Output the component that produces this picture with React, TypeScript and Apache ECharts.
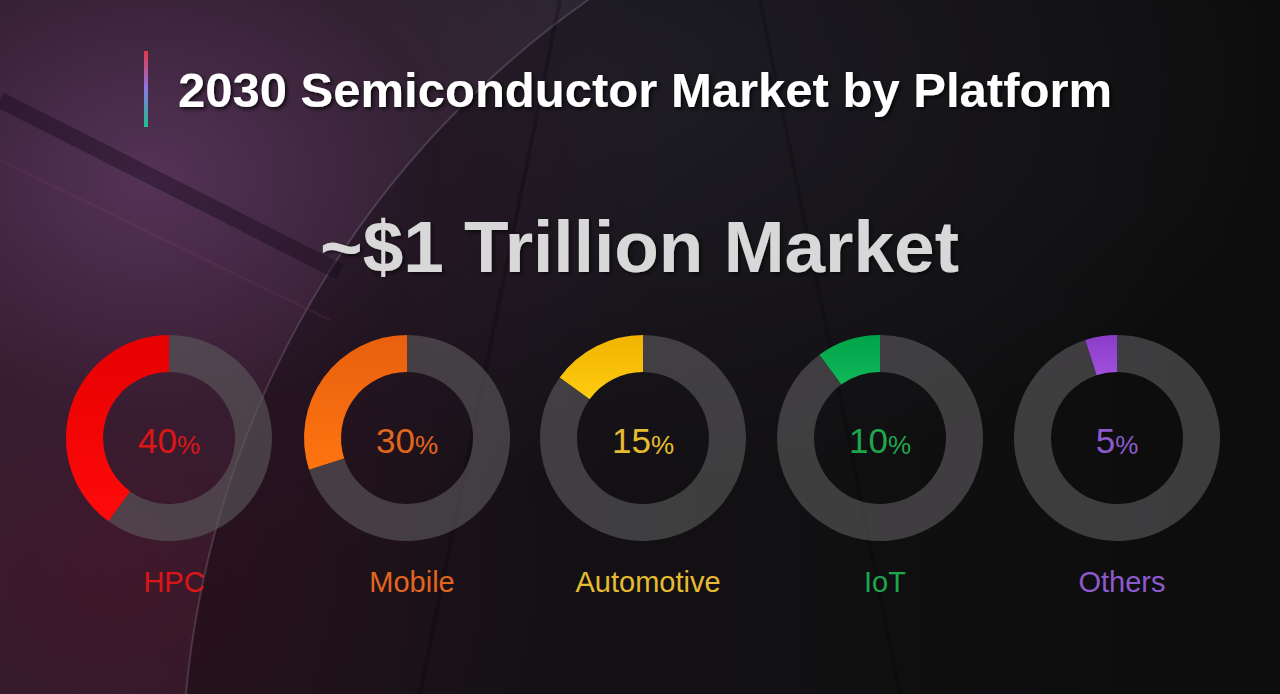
import React, { useEffect, useRef } from "react";
import * as echarts from "echarts";

const titleText = "2030 Semiconductor Market by Platform";
const headline = "~$1 Trillion Market";
const categories = ["HPC", "Mobile", "Automotive", "IoT", "Others"];
const shares = [40, 30, 15, 10, 5];
const arcTop = ["#e60000", "#e8600e", "#f0b400", "#00a448", "#8a3cc8"];
const arcBottom = ["#ff0a0a", "#ff7410", "#ffcc10", "#10b85a", "#a050dc"];
const labelColors = ["#dc1616", "#e2661e", "#e6bb32", "#1fa64c", "#8c5acc"];
const centersX = [169, 407, 643, 880, 1117];

export default function App() {
  const ref = useRef<HTMLDivElement>(null);
  useEffect(() => {
    if (!ref.current) return;
    const chart = echarts.init(ref.current, null, { renderer: "svg" });
    const series: any[] = shares.map((v, i) => ({
      type: "pie",
      radius: [66, 103],
      center: [centersX[i], 438],
      startAngle: 90,
      clockwise: false,
      silent: true,
      label: { show: false },
      labelLine: { show: false },
      emphasis: { disabled: true },
      data: [
        {
          value: v,
          name: categories[i],
          itemStyle: {
            color: new echarts.graphic.LinearGradient(0, 0, 0, 1, [
              { offset: 0, color: arcTop[i] },
              { offset: 1, color: arcBottom[i] },
            ]),
          },
          label: {
            show: true,
            position: "center",
            formatter: `{n|${v}}{p|%}`,
            rich: {
              n: { fontSize: 35, lineHeight: 40, color: labelColors[i], fontFamily: "Liberation Sans", verticalAlign: "bottom" },
              p: { fontSize: 26, lineHeight: 40, color: labelColors[i], fontFamily: "Liberation Sans", verticalAlign: "bottom" },
            },
          },
        },
        { value: 100 - v, name: "rest", itemStyle: { color: "rgba(92,90,92,0.62)" }, label: { show: false } },
      ],
    }));
    const titles: any[] = categories.map((c, i) => ({
      text: c,
      left: centersX[i],
      top: 562,
      textAlign: "center",
      textStyle: { color: labelColors[i], fontSize: 29, fontWeight: "normal", fontFamily: "Liberation Sans" },
    }));
    chart.setOption({
      animation: false,
      backgroundColor: "transparent",
      title: titles,
      graphic: [
        {
          type: "circle",
          shape: { cx: 1136, cy: 781, r: 954 },
          style: { fill: "rgba(0,0,0,0.3)", stroke: "rgba(190,185,210,0.2)", lineWidth: 2 },
          silent: true,
          z: -10,
        },
        {
          type: "line",
          shape: { x1: 0, y1: 100, x2: 340, y2: 272 },
          style: { stroke: "rgba(20,10,25,0.4)", lineWidth: 16 },
          silent: true,
          z: -9,
        },
        {
          type: "line",
          shape: { x1: 0, y1: 160, x2: 330, y2: 320 },
          style: { stroke: "rgba(150,70,110,0.14)", lineWidth: 3 },
          silent: true,
          z: -9,
        },
        {
          type: "line",
          shape: { x1: 560, y1: 0, x2: 420, y2: 694 },
          style: { stroke: "rgba(0,0,0,0.22)", lineWidth: 4 },
          silent: true,
          z: -9,
        },
        {
          type: "line",
          shape: { x1: 760, y1: 0, x2: 900, y2: 694 },
          style: { stroke: "rgba(0,0,0,0.18)", lineWidth: 4 },
          silent: true,
          z: -9,
        },
        {
          type: "rect",
          shape: { x: 144, y: 51, width: 4, height: 76 },
          style: {
            fill: new echarts.graphic.LinearGradient(0, 0, 0, 1, [
              { offset: 0, color: "#e8384a" },
              { offset: 0.5, color: "#8a78e6" },
              { offset: 1, color: "#1fbf8a" },
            ]),
          },
          silent: true,
        },
        {
          type: "text",
          left: 178,
          top: 65,
          style: {
            text: titleText,
            fill: "#ffffff",
            font: "bold 49px 'Liberation Sans'",
            textShadowColor: "rgba(0,0,0,0.8)",
            textShadowBlur: 4,
            textShadowOffsetX: 2,
            textShadowOffsetY: 2,
          },
          silent: true,
        },
        {
          type: "text",
          left: 320,
          top: 210,
          style: {
            text: headline,
            fill: "#d8d8d8",
            font: "bold 73px 'Liberation Sans'",
            textShadowColor: "rgba(0,0,0,0.6)",
            textShadowBlur: 4,
            textShadowOffsetX: 2,
            textShadowOffsetY: 2,
          },
          silent: true,
        },
      ],
      series,
    });
    return () => chart.dispose();
  }, []);
  return (
    <div
      style={{
        position: "absolute",
        left: 0,
        top: 0,
        width: 1280,
        height: 694,
        overflow: "hidden",
        background:
          "radial-gradient(ellipse 520px 420px at 150px 180px, rgba(90,52,92,0.9), rgba(60,30,55,0.5) 55%, rgba(0,0,0,0) 100%), radial-gradient(ellipse 420px 380px at 120px 560px, rgba(70,22,42,0.8), rgba(0,0,0,0) 100%), radial-gradient(ellipse 700px 400px at 600px 80px, rgba(50,46,60,0.8), rgba(0,0,0,0) 100%), linear-gradient(90deg, #2a1f2c 0%, #1b181c 50%, #131313 100%)",
      }}
    >
      <div ref={ref} style={{ width: 1280, height: 694 }} />
    </div>
  );
}
